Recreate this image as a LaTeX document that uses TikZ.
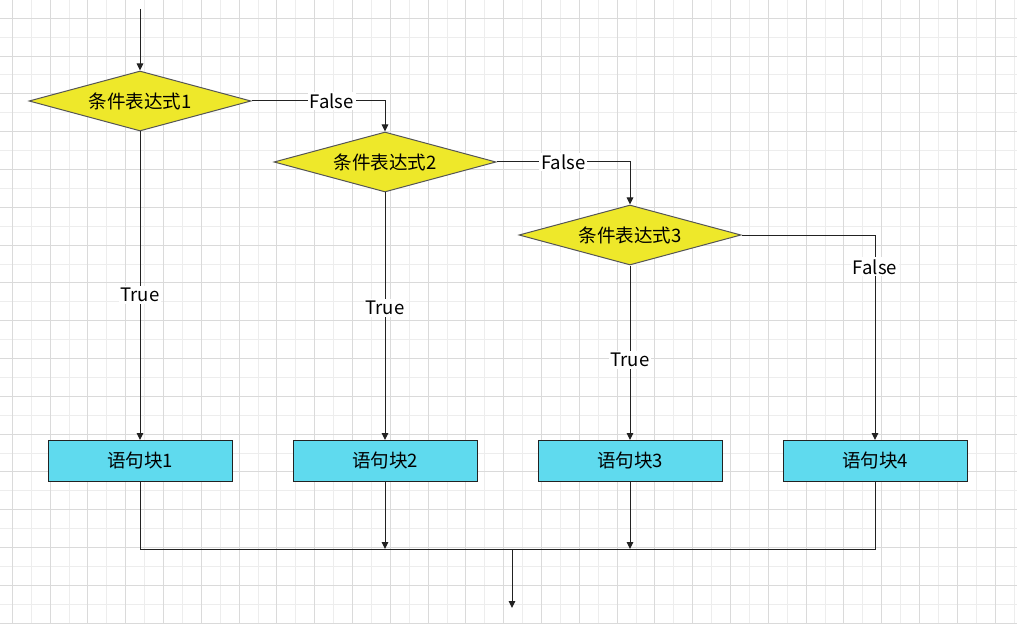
\documentclass[tikz,border=0pt]{standalone}
\usepackage{fontspec}
\setmainfont{Noto Sans CJK SC}
\usetikzlibrary{shapes.geometric,arrows.meta}
\definecolor{gridminor}{RGB}{237,237,237}
\definecolor{gridmajor}{RGB}{218,218,218}
\definecolor{condfill}{RGB}{238,232,42}
\definecolor{condline}{RGB}{85,85,85}
\definecolor{blockfill}{RGB}{95,218,238}
\definecolor{linec}{RGB}{34,34,34}
\begin{document}
\begin{tikzpicture}[x=0.75pt,y=-0.75pt,
  every node/.style={font=\fontsize{13.9pt}{16pt}\selectfont},
  cond/.style={diamond, draw=condline, fill=condfill, minimum width=166.5pt, minimum height=45pt, inner sep=0pt, shape aspect=3.7, line width=0.75pt},
  block/.style={rectangle, draw=linec, fill=blockfill, minimum width=138pt, minimum height=30.75pt, inner sep=0pt, line width=0.75pt},
  conn/.style={draw=linec, line width=0.75pt},
  arr/.style={conn, -{Triangle[length=5.25pt,width=4.9pt]}},
  lab/.style={fill=white, inner sep=1.5pt},
]
\useasboundingbox (0,0) rectangle (1017,624);
\fill[white] (0,0) rectangle (1017,624);
% grid
\foreach \j in {0,...,26} {\draw[gridminor, line width=0.75pt] ({31.2+37.8*\j},0) -- ({31.2+37.8*\j},624);}
\foreach \j in {1,...,16} {\draw[gridminor, line width=0.75pt] (0,{-0.6+37.8*\j}) -- (1017,{-0.6+37.8*\j});}
\foreach \j in {0,...,26} {\draw[gridmajor, line width=0.75pt] ({12.3+37.8*\j},0) -- ({12.3+37.8*\j},624);}
\foreach \j in {0,...,16} {\draw[gridmajor, line width=0.75pt] (0,{18.3+37.8*\j}) -- (1017,{18.3+37.8*\j});}

% nodes
\node[cond] (c1) at (140,101) {条件表达式1};
\node[cond] (c2) at (385,162) {条件表达式2};
\node[cond] (c3) at (630,235) {条件表达式3};
\node[block] (b1) at (140,461) {语句块1};
\node[block] (b2) at (385,461) {语句块2};
\node[block] (b3) at (630,461) {语句块3};
\node[block] (b4) at (875,461) {语句块4};
\coordinate (start) at (140,9);
\coordinate (m) at (512,549);
\coordinate (out) at (512,608);

% connectors
\draw[arr] (start) -- (c1.north);
\draw[arr] (c1.east) -| node[lab, pos=0.3] {False} (c2.north);
\draw[arr] (c2.east) -| node[lab, pos=0.25] {False} (c3.north);
\draw[arr] (c3.east) -| node[lab, pos=0.578] {False} (b4.north);
\draw[arr] (c1.south) -- node[lab, pos=0.53] {True} (b1.north);
\draw[arr] (c2.south) -- node[lab, pos=0.467] {True} (b2.north);
\draw[arr] (c3.south) -- node[lab, pos=0.54] {True} (b3.north);
\draw[conn] (b1.south) |- (m);
\draw[conn] (b4.south) |- (m);
\draw[arr] (b2.south) -- (b2.south |- m);
\draw[arr] (b3.south) -- (b3.south |- m);
\draw[arr] (m) -- (out);
\end{tikzpicture}
\end{document}
